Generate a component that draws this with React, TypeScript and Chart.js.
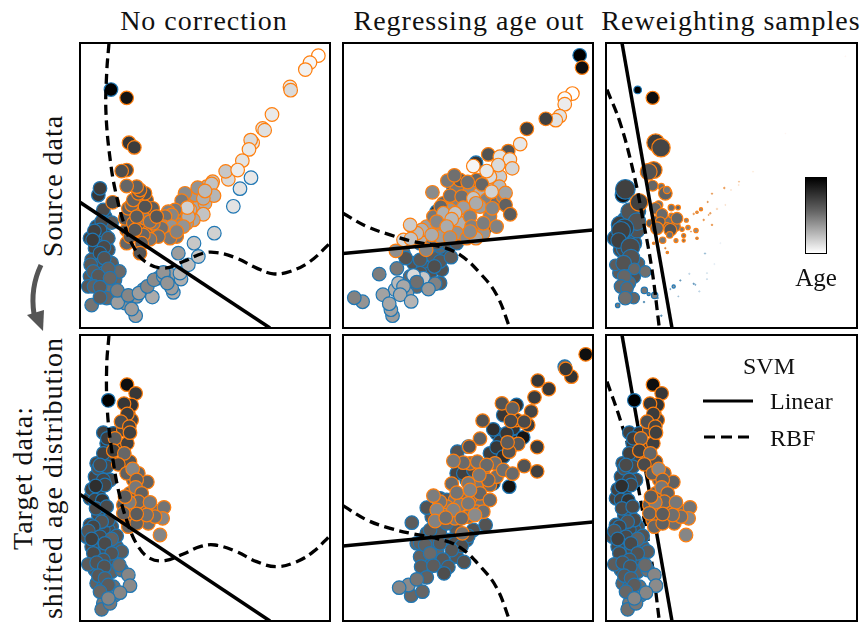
import React, { useEffect, useRef } from "react";
import { Chart, registerables } from "chart.js";

Chart.register(...registerables);

type Pt = number[];

const ORANGE = "#ff7f0e";
const BLUE = "#1f77b4";

// [x, y, grey level of the age colour map, optional radius, optional opacity]
const p1OrangeBack: Pt[] = [[210,600,80],[240,600,95],[260,590,100],[185,560,80],[215,545,85],[200,530,75],[275,570,105],[240,545,90],[300,575,125],[325,570,130],[330,545,120],[345,520,130],[370,510,150],[385,530,160],[375,495,145],[410,470,165],[405,520,170],[320,620,110],[170,600,80],[165,565,80],[215,510,75],[230,510,75]];
const p1Orange: Pt[] = [[745,76,255],[720,97,245],[706,118,240],[660,170,230],[662,180,215],[606,253,232],[578,295,225],[584,300,222],[548,338,228],[542,330,215],[537,358,230],[517,392,225],[475,448,215],[467,424,195],[503,420,235],[428,455,190],[425,462,190],[432,497,175],[383,473,140],[400,505,170],[405,483,180],[345,490,130],[335,512,110],[400,553,190],[370,570,160],[360,540,170],[350,580,150],[355,560,170],[352,533,205],[315,540,110],[295,545,120],[305,555,125],[285,560,100],[280,590,130],[305,590,140],[340,590,140],[275,595,100],[300,625,110],[320,605,120],[265,620,100],[240,628,105],[220,615,90],[215,640,80],[250,580,110],[225,565,110],[248,535,80],[225,530,70],[240,575,100],[190,580,85],[175,535,85],[185,525,90],[190,510,85],[225,490,70],[205,490,80],[210,480,75],[200,470,85],[170,468,90],[128,517,55],[170,420,60],[155,423,65],[177,338,40],[193,352,45],[170,203,20],[170,640,90],[210,670,70],[180,620,80],[195,600,75],[200,560,80],[260,560,75]];
const p1BlueBack: Pt[] = [[105,560,60],[80,590,55],[60,625,50],[85,640,55],[105,615,60],[75,655,55],[115,660,65],[65,690,70],[90,705,70],[125,700,80],[60,740,75],[100,730,80],[135,750,90],[80,755,80],[55,770,75],[100,780,90],[120,770,95],[130,805,110],[160,800,120],[110,775,100],[220,780,140],[200,800,140],[265,745,140],[300,735,150],[165,820,135]];
const p1Blue: Pt[] = [[123,178,0],[85,495,40],[90,475,45],[100,540,60],[125,578,80],[95,575,60],[90,600,55],[73,603,50],[68,630,45],[115,625,70],[102,652,60],[90,670,55],[103,685,70],[62,705,75],[70,725,80],[148,725,95],[115,717,85],[85,738,75],[120,745,90],[72,770,85],[90,772,80],[110,805,90],[65,826,105],[90,803,80],[143,818,150],[142,782,115],[197,858,155],[185,838,150],[175,797,125],[207,790,150],[247,802,165],[232,770,125],[252,750,130],[280,740,150],[280,728,140],[310,788,165],[305,775,150],[292,760,140],[333,748,170],[330,730,175],[355,705,185],[325,670,150],[385,680,195],[372,640,195],[433,610,205],[490,529,225],[510,476,225],[543,443,230]];

const p2OrangeBack: Pt[] = [[310,520,90],[340,510,120],[350,475,110],[390,480,130],[420,490,170],[440,510,120],[420,530,150],[380,550,170],[360,580,170],[330,540,140],[300,600,140],[260,590,150],[350,610,140],[380,625,130],[430,610,140],[450,560,120],[470,520,100],[490,500,120],[410,450,90],[450,460,180],[480,440,200],[360,450,80],[300,620,150],[240,625,170],[280,560,110]];
const p2Orange: Pt[] = [[727,112,15],[698,190,255],[675,205,250],[675,222,235],[660,258,225],[648,270,225],[618,266,50],[561,296,50],[541,342,230],[505,363,70],[445,373,70],[480,380,225],[510,388,225],[517,415,210],[400,408,245],[475,405,215],[450,440,215],[440,423,230],[322,452,110],[343,436,100],[383,456,100],[426,463,90],[478,470,180],[455,485,205],[497,489,155],[277,487,130],[330,497,100],[365,500,100],[400,505,190],[408,520,165],[497,525,85],[511,553,80],[457,535,125],[302,530,90],[370,533,150],[310,550,170],[345,550,190],[290,575,125],[335,568,180],[320,590,165],[390,560,120],[395,590,120],[430,580,115],[470,590,120],[245,600,170],[230,610,180],[210,585,200],[190,630,215],[212,627,190],[275,615,165],[330,623,140],[408,625,160],[390,605,130],[258,660,125],[167,663,135]];
const p2BlueBack: Pt[] = [[260,670,70],[220,700,70],[280,680,80],[320,670,70],[210,740,90],[250,710,75],[270,730,70],[230,770,90],[200,790,150],[165,780,170],[240,640,90],[190,670,100],[305,720,70],[300,650,90]];
const p2Blue: Pt[] = [[720,75,0],[408,398,40],[290,545,40],[440,590,60],[340,470,60],[450,525,190],[197,685,70],[240,690,75],[300,695,75],[283,710,65],[333,682,80],[170,716,110],[117,733,115],[240,730,70],[250,745,195],[220,737,215],[175,760,180],[300,760,80],[285,762,120],[230,757,100],[190,770,160],[265,778,145],[180,795,165],[213,815,175],[128,795,155],[157,858,150],[152,840,155],[147,822,160],[67,816,140],[42,804,120],[320,640,80],[350,640,75],[270,650,100],[290,640,80]];

const p3OrangeBack: Pt[] = [[150,580,80,4],[190,575,90,6],[205,575,100,5],[165,570,85,4],[225,590,95,5],[200,590,90,4]];
const p3Orange: Pt[] = [[157,203,15,6.6],[166,338,45,8.8],[182,353,55,9.2],[160,420,60,8.4],[145,425,70,8.4],[157,467,90,5.4],[183,470,100,3.2],[195,490,85,6.8],[200,480,110,3.6],[116,517,50,8.8],[175,525,100,4.2],[165,535,90,5.8],[233,533,90,2.4],[213,533,100,3.2],[185,553,95,5.8],[213,557,110,2.4],[230,565,90,5.8],[180,575,80,4.8],[170,595,90,6.4],[210,600,70,6.4],[208,615,100,3.2],[245,598,110,2.2],[263,593,120,2.2],[258,571,120,2],[250,617,110,2],[250,632,100,1.6],[287,602,130,2.2],[290,625,130,1.3],[227,632,120,2],[187,631,110,3.2],[160,640,120,1.3],[201,668,130,1.3],[195,655,130,0.8],[302,538,130,1.6],[290,547,150,1.3],[280,552,170,0.8],[335,491,150,0.7],[322,516,150,0.7],[372,474,170,0.8],[416,455,200,0.6,0.7],[350,537,220,0.8,0.4],[310,570,170,0.8],[330,550,170,0.8],[335,585,170,0.8],[325,555,180,0.6],[375,525,200,0.6,0.3],[392,480,210,0.6,0.3],[458,425,230,0.6,0.2],[555,310,230,0.5,0.1],[735,78,250,0.6,0.1],[415,465,230,0.6,0.3],[272,605,150,0.6]];
const p3BlueBack: Pt[] = [[75,570,60,8],[105,545,70,8],[95,610,60,9],[45,625,50,8],[100,640,60,8],[110,600,70,8],[60,660,60,7],[90,720,70,8],[75,690,70,7],[115,700,80,6],[55,730,80,6],[100,740,70,7],[85,760,90,7],[115,545,60,7],[75,655,60,9],[60,585,50,9]];
const p3Blue: Pt[] = [[112,179,0,3.8],[68,495,20,7.8],[75,478,50,9.8],[88,545,70,8.8],[110,575,70,8.8],[72,595,50,9.4],[62,603,50,9.4],[55,632,50,7.8],[90,652,60,9.4],[92,685,70,8.8],[45,705,80,5.8],[70,700,70,7.8],[135,725,100,5.8],[102,717,90,5.8],[72,740,90,6.8],[62,770,90,6.8],[80,775,90,6.4],[100,805,90,5.8],[75,805,100,6.8],[52,827,110,2.2],[132,782,110,3.2],[145,793,130,1.6],[163,797,120,3.2],[131,817,130,0.8],[172,805,130,0.8],[220,770,150,1.6],[210,778,170,0.6],[240,752,170,0.7],[267,732,210,0.7,0.4],[280,762,170,0.7],[285,765,190,0.6],[297,785,210,0.7,0.4],[314,671,190,0.7,0.6],[320,730,210,0.6,0.3],[320,748,210,0.6,0.4],[234,800,190,0.6,0.6],[183,858,150,0.8],[342,703,230,0.6,0.2],[360,640,230,0.6,0.15]];

const p4OrangeBack: Pt[] = [[180,395,70],[200,470,90],[180,490,85],[215,540,85],[195,530,90],[225,530,95],[180,555,85],[160,525,80],[215,570,90],[240,560,100],[265,545,100],[190,575,90],[170,570,85],[175,250,45],[185,270,55],[160,300,60],[150,350,55],[190,450,85]];
const p4Orange: Pt[] = [[171,164,15],[197,190,40],[185,225,35],[162,221,40],[172,252,45],[153,275,65],[178,290,55],[172,340,50],[180,308,50],[135,325,80],[130,362,50],[163,370,90],[145,403,60],[170,430,85],[205,430,90],[188,417,125],[232,456,85],[200,450,85],[197,472,110],[215,490,85],[205,515,90],[178,517,115],[240,517,110],[282,532,105],[278,565,125],[165,500,80],[160,550,85],[175,590,90],[235,580,100],[200,580,85],[255,560,100],[230,555,100],[200,552,80],[270,615,125]];
const p4BlueBack: Pt[] = [[110,340,45],[120,390,55],[100,420,60],[75,440,55],[120,450,60],[85,490,50],[60,505,55],[100,550,65],[85,555,60],[125,590,70],[60,585,60],[115,600,65],[75,610,55],[100,600,60],[50,620,70],[85,650,65],[110,660,65],[140,650,80],[65,650,60],[125,695,75],[75,720,75],[125,725,85],[80,760,85],[100,770,85],[130,770,100],[155,720,100],[100,820,110],[135,795,115],[80,400,60]];
const p4Blue: Pt[] = [[100,308,50],[130,310,40],[112,325,45],[100,370,50],[85,415,70],[110,410,60],[90,405,60],[100,450,55],[105,465,55],[65,478,50],[77,468,30],[75,510,50],[97,511,35],[78,535,60],[110,530,60],[115,570,60],[95,575,70],[70,590,55],[55,603,70],[90,620,60],[65,627,50],[140,618,70],[125,627,85],[105,640,60],[155,665,80],[70,670,60],[125,670,70],[100,690,70],[55,703,80],[80,698,70],[148,705,95],[103,710,70],[175,735,125],[85,737,75],[105,745,80],[180,767,130],[115,765,80],[90,785,90],[150,788,125],[95,838,100],[120,820,110],[115,805,125],[115,211,0]];

const p5OrangeBack: Pt[] = [[370,500,100],[400,505,105],[430,510,95],[410,470,110],[450,465,95],[470,440,100],[430,420,100],[390,400,100],[345,510,110],[320,530,110],[360,525,115],[395,535,115],[425,525,105],[310,555,115],[345,565,110],[385,560,105],[410,545,110],[300,560,120],[530,270,50],[520,345,75]];
const p5Orange: Pt[] = [[738,73,15],[695,140,35],[678,117,40],[594,152,40],[627,177,40],[584,202,45],[486,220,70],[518,235,85],[574,244,55],[428,272,70],[565,285,45],[553,275,60],[513,273,60],[420,326,85],[535,342,75],[508,365,70],[503,337,80],[592,351,45],[388,350,70],[370,398,95],[340,393,110],[412,395,100],[465,400,100],[490,420,100],[440,405,95],[553,408,70],[592,424,50],[518,431,95],[445,450,90],[418,435,110],[335,461,95],[350,488,105],[420,490,90],[385,460,110],[390,480,120],[300,515,105],[280,497,115],[450,510,95],[385,520,110],[290,540,125],[340,540,120],[430,545,100],[405,555,130],[365,565,95],[285,573,120],[317,563,100],[367,610,105]];
const p5BlueBack: Pt[] = [[520,295,35],[470,310,35],[480,335,40],[530,335,35],[450,370,45],[470,400,40],[400,400,50],[380,450,50],[420,470,60],[460,460,45],[350,430,55],[300,505,70],[275,560,75],[320,510,75],[260,610,75],[300,610,80],[350,600,80],[400,600,70],[290,665,90],[350,680,75],[260,700,85],[300,700,80],[240,680,85],[230,640,90],[280,640,85],[330,630,75],[380,630,70],[345,640,70]];
const p5Blue: Pt[] = [[675,110,100],[530,225,30],[490,255,40],[460,298,30],[500,310,40],[550,322,20],[470,352,40],[490,380,30],[352,365,70],[385,350,60],[370,430,50],[400,420,60],[508,470,20],[260,533,70],[215,578,80],[437,585,70],[270,600,80],[320,580,90],[385,618,70],[240,640,85],[255,645,85],[300,640,75],[365,648,65],[270,670,95],[335,660,75],[308,688,75],[372,696,70],[243,710,80],[280,707,80],[325,711,75],[312,730,65],[260,742,85],[213,797,90],[247,785,90],[205,765,130],[230,748,105],[177,773,125]];

// decision boundaries: [x, y]
const p1Linear: Pt[] = [[30,517],[600,895]];
const p1Rbf: Pt[] = [[117,38],[110,130],[108,250],[122,400],[140,500],[165,590],[190,650],[225,695],[280,715],[340,695],[400,670],[440,668],[500,685],[560,715],[610,732],[660,725],[720,695],[780,640]];
const p2Linear: Pt[] = [[8,671],[760,600]];
const p2Rbf: Pt[] = [[8,550],[80,590],[150,615],[220,635],[300,650],[360,675],[420,730],[470,795],[510,895]];
const p3Linear: Pt[] = [[65,38],[215,895]];
const p3Rbf: Pt[] = [[20,178],[60,280],[100,430],[130,580],[155,720],[177,895]];
const p4Linear: Pt[] = [[30,493],[600,873]];
const p4Rbf: Pt[] = [[117,15],[110,110],[112,240],[125,360],[145,480],[175,585],[205,650],[240,685],[285,692],[340,672],[390,650],[435,645],[500,665],[560,695],[620,710],[680,695],[730,665],[780,617]];
const p5Linear: Pt[] = [[8,648],[760,576]];
const p5Rbf: Pt[] = [[8,527],[80,570],[150,595],[220,612],[300,628],[360,652],[420,708],[470,773],[510,873]];
const p6Linear: Pt[] = [[78,15],[228,873]];
const p6Rbf: Pt[] = [[33,155],[73,270],[113,410],[143,560],[168,700],[190,873]];

const titles = ["No correction", "Regressing age out", "Reweighting samples"];

const panels = [
  { left: 80, top: 43, w: 250, h: 285, xr: [30, 780], yr: [38, 895], orange: [...p1OrangeBack, ...p1Orange], blue: [...p1BlueBack, ...p1Blue], linear: p1Linear, rbf: p1Rbf, linesOnTop: true },
  { left: 343, top: 43, w: 250, h: 285, xr: [8, 760], yr: [38, 895], orange: [...p2OrangeBack, ...p2Orange], blue: [...p2BlueBack, ...p2Blue], linear: p2Linear, rbf: p2Rbf, linesOnTop: true },
  { left: 606, top: 43, w: 251, h: 285, xr: [17, 770], yr: [38, 895], orange: [...p3OrangeBack, ...p3Orange], blue: [...p3BlueBack, ...p3Blue], linear: p3Linear, rbf: p3Rbf, linesOnTop: true },
  { left: 80, top: 335, w: 250, h: 286, xr: [30, 780], yr: [15, 873], orange: [...p4OrangeBack, ...p4Orange], blue: [...p4BlueBack, ...p4Blue], linear: p4Linear, rbf: p4Rbf, linesOnTop: true },
  { left: 343, top: 335, w: 250, h: 286, xr: [8, 760], yr: [15, 873], orange: [...p5OrangeBack, ...p5Orange], blue: [...p5BlueBack, ...p5Blue], linear: p5Linear, rbf: p5Rbf, linesOnTop: true },
  { left: 606, top: 335, w: 251, h: 286, xr: [30, 783], yr: [15, 873], orange: [...p4OrangeBack, ...p4Orange], blue: [...p4BlueBack, ...p4Blue], linear: p6Linear, rbf: p6Rbf, linesOnTop: false },
];

// age colour map: very dark values stay dark, mid greys are lifted slightly
const lift = (g: number) => (g < 30 ? g : Math.min(255, Math.round(g + 18 * (1 - g / 255))));
const grey = (g: number, a = 1) => `rgba(${lift(g)},${lift(g)},${lift(g)},${a})`;

function scatterSet(points: Pt[], edge: string, name: string) {
  const hex = edge === ORANGE ? "255,127,14" : "31,119,180";
  return {
    type: "scatter" as const,
    label: name,
    data: points.map((p) => ({ x: p[0], y: p[1] })),
    pointRadius: points.map((p) => p[3] ?? 6.8),
    pointBackgroundColor: points.map((p) => grey(p[2], p[4] ?? 1)),
    pointBorderColor: points.map((p) => `rgba(${hex},${p[4] ?? 1})`),
    pointBorderWidth: points.map((p) => Math.min(1.2, (p[3] ?? 6.8) * 0.8)),
  };
}

function lineSet(points: Pt[], dashed: boolean, name: string) {
  return {
    type: "line" as const,
    label: name,
    data: points.map((p) => ({ x: p[0], y: p[1] })),
    borderColor: "#000",
    borderWidth: dashed ? 3.3 : 3.5,
    borderDash: dashed ? [10, 5.5] : [],
    tension: dashed ? 0.4 : 0,
    pointRadius: 0,
    fill: false,
  };
}

const framePlugin = {
  id: "frame",
  afterDraw(chart: any) {
    const { left, top, width, height } = chart.chartArea;
    const c = chart.ctx;
    c.save();
    c.strokeStyle = "#000";
    c.lineWidth = 2;
    c.strokeRect(left, top, width, height);
    c.restore();
  },
};

function Panel({ cfg }: { cfg: (typeof panels)[number] }) {
  const ref = useRef<HTMLCanvasElement>(null);
  useEffect(() => {
    const lines = [lineSet(cfg.linear, false, "Linear"), lineSet(cfg.rbf, true, "RBF")];
    const dots = [scatterSet(cfg.orange, ORANGE, "Orange class"), scatterSet(cfg.blue, BLUE, "Blue class")];
    const chart = new Chart(ref.current as HTMLCanvasElement, {
      data: { datasets: (cfg.linesOnTop ? [...lines, ...dots] : [...dots, ...lines]) as any },
      options: {
        animation: false,
        responsive: false,
        layout: { padding: 1, autoPadding: false },
        plugins: { legend: { display: false }, tooltip: { enabled: false } },
        scales: {
          x: { type: "linear", display: false, min: cfg.xr[0], max: cfg.xr[1] },
          y: { type: "linear", display: false, min: cfg.yr[0], max: cfg.yr[1], reverse: true },
        },
      },
      plugins: [framePlugin],
    } as any);
    return () => chart.destroy();
  }, [cfg]);
  return (
    <canvas
      ref={ref}
      width={cfg.w + 2}
      height={cfg.h + 2}
      style={{ position: "absolute", left: cfg.left - 1, top: cfg.top - 1, width: cfg.w + 2, height: cfg.h + 2 }}
    />
  );
}

const FONT = '"Liberation Serif", serif';

function Label({ text, x, y, size = 28, rot = 0, spacing = 0, anchor = "-50%" }: any) {
  return (
    <div
      style={{
        position: "absolute",
        left: x,
        top: y,
        fontFamily: FONT,
        fontSize: size,
        lineHeight: 1,
        letterSpacing: spacing,
        color: "#111",
        whiteSpace: "nowrap",
        transform: `translate(${anchor},-50%) rotate(${rot}deg)`,
      }}
    >
      {text}
    </div>
  );
}

export default function App() {
  return (
    <div style={{ position: "absolute", left: 0, top: 0, width: 864, height: 624, overflow: "hidden", background: "#fff" }}>
      {panels.map((p, i) => (
        <Panel key={i} cfg={p} />
      ))}
      <Label text={titles[0]} x={204} y={21} spacing={1} />
      <Label text={titles[1]} x={469} y={21} spacing={1} />
      <Label text={titles[2]} x={731} y={21} spacing={1} />
      <Label text="Source data" x={53} y={186} rot={-90} spacing={1} />
      <Label text="Target data:" x={23} y={478} rot={-90} spacing={1} />
      <Label text="shifted age distribution" x={53} y={478} rot={-90} spacing={1} />
      <svg width={60} height={80} style={{ position: "absolute", left: 10, top: 258 }}>
        <path d="M 31 7 Q 20 30 24 56" fill="none" stroke="#555" strokeWidth={5} />
        <path d="M 17 57 L 34 52 L 33 73 Z" fill="#555" />
      </svg>
      <div
        style={{
          position: "absolute",
          left: 805,
          top: 177,
          width: 20,
          height: 75,
          border: "1.5px solid #000",
          background: "linear-gradient(to bottom, #000, #666 45%, #fff)",
        }}
      />
      <Label text="Age" x={816} y={277} size={25} />
      <Label text="SVM" x={769} y={366} size={24} />
      <Label text="Linear" x={770} y={401} size={24} anchor="0" />
      <Label text="RBF" x={770} y={438} size={24} anchor="0" />
      <svg width={60} height={60} style={{ position: "absolute", left: 700, top: 390 }}>
        <line x1={3} x2={53} y1={11} y2={11} stroke="#000" strokeWidth={3} />
        <line x1={4} x2={52} y1={47} y2={47} stroke="#000" strokeWidth={3} strokeDasharray="11 6" />
      </svg>
    </div>
  );
}
